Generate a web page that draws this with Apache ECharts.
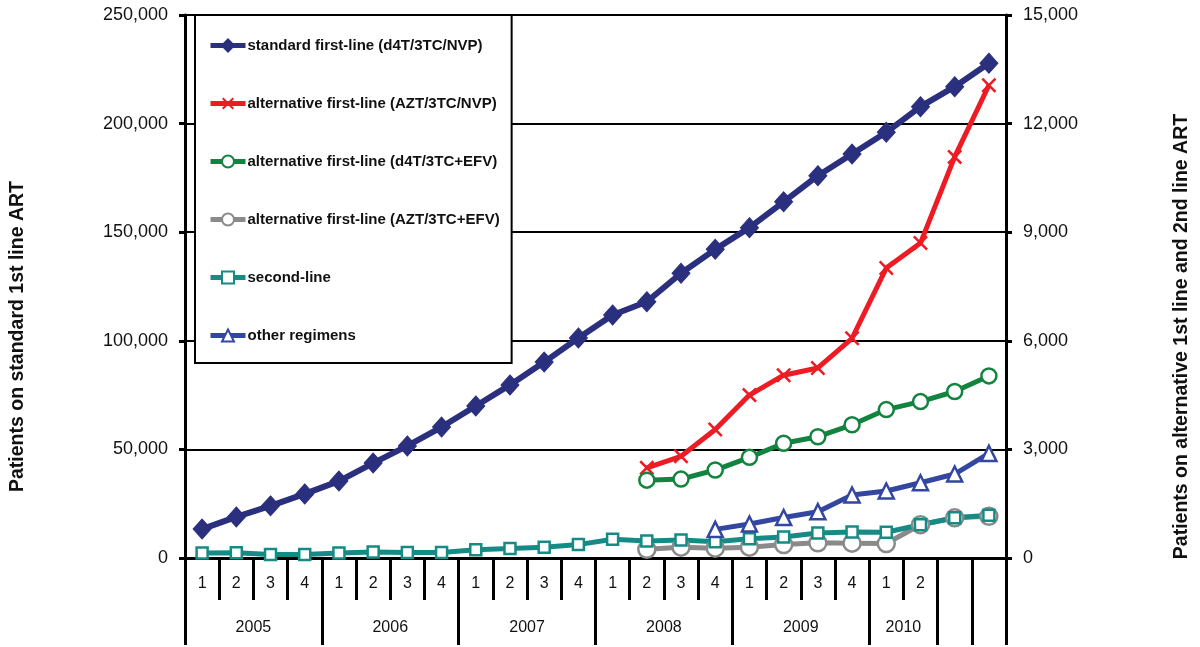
<!DOCTYPE html>
<html>
<head>
<meta charset="utf-8">
<script src="https://cdn.jsdelivr.net/npm/echarts@6/dist/echarts.min.js"></script>
<style>
html,body{margin:0;padding:0;background:#fff;}
#chart{width:1200px;height:647px;}
</style>
</head>
<body>
<div id="chart"></div>
<script>
// ---- data ----
var quarterLabels = ["1","2","3","4","1","2","3","4","1","2","3","4","1","2","3","4","1","2","3","4","1","2","",""];
var yearLabels = ["2005","2006","2007","2008","2009","2010"];
var quartersPerYear = [4,4,4,4,4,2];
var blankCategories = 2;

var standardFirstLine = [13300,18900,24000,29500,35400,43700,51600,60300,70000,79700,90200,101300,111900,118000,131100,142100,152100,164000,176000,186000,196000,207800,217000,227800];
var altAZTNVP = [null,null,null,null,null,null,null,null,null,null,null,null,null,2490,2810,3550,4500,5050,5250,6070,8010,8700,11080,13060];
var altD4TEFV = [null,null,null,null,null,null,null,null,null,null,null,null,null,2150,2180,2430,2780,3170,3350,3680,4100,4320,4600,5030];
var altAZTEFV = [null,null,null,null,null,null,null,null,null,null,null,null,null,240,300,270,300,370,420,410,400,920,1110,1150];
var secondLine = [140,145,100,100,140,165,150,150,230,260,300,370,520,470,500,450,530,580,690,720,710,920,1110,1180];
var otherRegimens = [null,null,null,null,null,null,null,null,null,null,null,null,null,null,null,790,940,1120,1280,1740,1850,2080,2320,2890];

var seriesNames = [
  "standard first-line (d4T/3TC/NVP)",
  "alternative first-line (AZT/3TC/NVP)",
  "alternative first-line (d4T/3TC+EFV)",
  "alternative first-line (AZT/3TC+EFV)",
  "second-line",
  "other regimens"
];

// ---- derived axis group positions ----
var boundaries = [0], centers = [], acc = 0;
quartersPerYear.forEach(function(n){ centers.push(acc + n/2); acc += n; boundaries.push(acc); });
for (var b = 0; b < blankCategories; b++) { acc += 1; boundaries.push(acc); }
var totalCats = acc;

var FONT = "'Liberation Sans', Arial, sans-serif";
var fmt = function(v){ return v.toLocaleString('en-US'); };

var xPath = 'path://M0,1.2L1.2,0L5,3.8L8.8,0L10,1.2L6.2,5L10,8.8L8.8,10L5,6.2L1.2,10L0,8.8L3.8,5Z';

var chart = echarts.init(document.getElementById('chart'), null, {renderer:'canvas'});
chart.setOption({
  animation: false,
  backgroundColor: '#fff',
  grid: {left: 183, right: 194, top: 15, bottom: 89, containLabel: false},
  legend: {
    orient: 'vertical',
    left: 195, top: 15,
    backgroundColor: '#fff',
    borderColor: '#000', borderWidth: 2,
    padding: [23, 12, 20, 13],
    itemGap: 43,
    itemWidth: 35, itemHeight: 15,
    lineStyle: {width: 5},
    textStyle: {fontFamily: FONT, fontWeight: 'bold', fontSize: 15, color: '#111', padding: [0, 0, 0, -3]},
    data: seriesNames
  },
  xAxis: [
    {
      type: 'category', data: quarterLabels, boundaryGap: true, position: 'bottom',
      axisLine: {show: true, onZero: false, lineStyle: {color: '#000', width: 3}},
      axisTick: {show: true, interval: 0, length: 42, lineStyle: {color: '#000', width: 3}},
      axisLabel: {interval: 0, margin: 18, fontFamily: FONT, fontSize: 16, color: '#111'},
      splitLine: {show: false}
    },
    {
      type: 'value', min: 0, max: totalCats, position: 'bottom',
      axisLine: {show: false},
      axisTick: {show: true, customValues: boundaries, length: 87, lineStyle: {color: '#000', width: 3}},
      axisLabel: {show: true, customValues: centers, margin: 62, fontFamily: FONT, fontSize: 16, color: '#111',
        formatter: function(v){ var i = centers.indexOf(v); return i >= 0 ? yearLabels[i] : ''; }},
      splitLine: {show: false}
    }
  ],
  yAxis: [
    {
      type: 'value', min: 0, max: 250000, interval: 50000, position: 'left',
      name: 'Patients on standard 1st line ART', nameLocation: 'middle', nameRotate: 90, nameGap: 157,
      nameTextStyle: {fontFamily: FONT, fontWeight: 'bold', fontSize: 19.5, color: '#111', padding: [0, 100, 0, 0]},
      axisLine: {show: true, lineStyle: {color: '#000', width: 3}},
      axisTick: {show: true, length: 6, lineStyle: {color: '#000', width: 3}},
      axisLabel: {margin: 17, fontFamily: FONT, fontSize: 18, color: '#111', formatter: fmt},
      splitLine: {show: true, lineStyle: {color: '#000', width: 2}}
    },
    {
      type: 'value', min: 0, max: 15000, interval: 3000, position: 'right',
      name: 'Patients on alternative 1st line and 2nd line ART', nameLocation: 'middle', nameRotate: 90, nameGap: 166,
      nameTextStyle: {fontFamily: FONT, fontWeight: 'bold', fontSize: 19.5, color: '#111', padding: [0, 100, 0, 0]},
      axisLine: {show: true, lineStyle: {color: '#000', width: 3}},
      axisTick: {show: true, length: 6, lineStyle: {color: '#000', width: 3}},
      axisLabel: {margin: 17, fontFamily: FONT, fontSize: 18, color: '#111', formatter: fmt},
      splitLine: {show: false}
    }
  ],
  series: [
    {
      name: seriesNames[0], type: 'line', xAxisIndex: 0, yAxisIndex: 0, data: standardFirstLine,
      symbol: 'diamond', symbolSize: [18, 20], showAllSymbol: true,
      lineStyle: {color: '#2A2F7E', width: 6},
      itemStyle: {color: '#2A2F7E', borderColor: '#2A2F7E', borderWidth: 1}
    },
    {
      name: seriesNames[1], type: 'line', xAxisIndex: 0, yAxisIndex: 1, data: altAZTNVP,
      symbol: xPath, symbolSize: 15, showAllSymbol: true,
      lineStyle: {color: '#ED1C24', width: 5},
      itemStyle: {color: '#ED1C24'}
    },
    {
      name: seriesNames[2], type: 'line', xAxisIndex: 0, yAxisIndex: 1, data: altD4TEFV,
      symbol: 'circle', symbolSize: 15, showAllSymbol: true,
      lineStyle: {color: '#13843F', width: 5},
      itemStyle: {color: '#fff', borderColor: '#13843F', borderWidth: 2.5}
    },
    {
      name: seriesNames[3], type: 'line', xAxisIndex: 0, yAxisIndex: 1, data: altAZTEFV,
      symbol: 'circle', symbolSize: 17, showAllSymbol: true,
      lineStyle: {color: '#8A8A8A', width: 5},
      itemStyle: {color: '#fff', borderColor: '#8A8A8A', borderWidth: 2.5}
    },
    {
      name: seriesNames[4], type: 'line', xAxisIndex: 0, yAxisIndex: 1, data: secondLine,
      symbol: 'rect', symbolSize: 11, showAllSymbol: true,
      lineStyle: {color: '#168B85', width: 5},
      itemStyle: {color: '#fff', borderColor: '#168B85', borderWidth: 2.5}
    },
    {
      name: seriesNames[5], type: 'line', xAxisIndex: 0, yAxisIndex: 1, data: otherRegimens,
      symbol: 'triangle', symbolSize: 15, showAllSymbol: true,
      lineStyle: {color: '#3447A0', width: 5},
      itemStyle: {color: '#fff', borderColor: '#3447A0', borderWidth: 2.5}
    }
  ]
});
</script>
</body>
</html>
